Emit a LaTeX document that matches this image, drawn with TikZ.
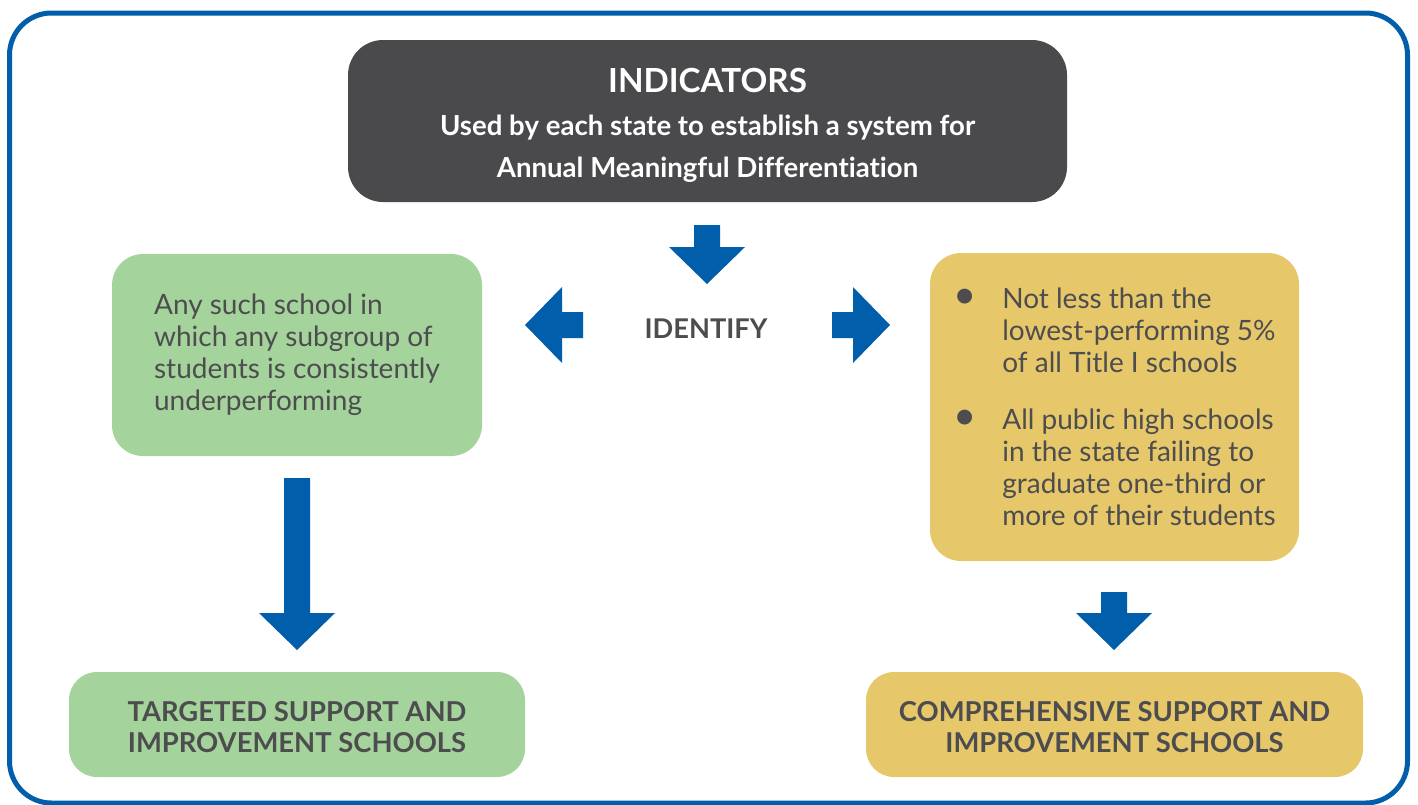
\documentclass[tikz,border=0pt]{standalone}
\usepackage{fontspec}
\setmainfont{Lato}[Ligatures=NoCommon]
\definecolor{schoolblue}{RGB}{0,94,170}
\definecolor{headgray}{RGB}{74,73,76}
\definecolor{textgray}{RGB}{77,77,79}
\definecolor{tsgreen}{RGB}{165,211,156}
\definecolor{csgold}{RGB}{230,200,106}

\tikzset{
    pics/blockarrow/.style={
        code={
            \fill[schoolblue] (0,0) -- (-38,-37) -- (-13,-37) -- (-13,-37-#1)
                -- (13,-37-#1) -- (13,-37) -- (38,-37) -- cycle;
        }
    },
    box/.style={inner sep=0pt, align=center, text=textgray},
    bodyfont/.style={font=\fontsize{14}{16}\selectfont},
    labelfont/.style={font=\bfseries\fontsize{13.7}{15.5}\selectfont}
}

\begin{document}
\begin{tikzpicture}[x=0.5pt,y=-0.5pt]
                      \useasboundingbox (0,0) rectangle (1418,804);
                      \draw[schoolblue, line width=2.5pt, rounded corners=21pt] (9.5,13) rectangle (1407.5,803);

                      \node[box, fill=headgray, text=white, minimum width=359.5pt, minimum height=81pt,
                            rounded corners=17.5pt, font=\bfseries\fontsize{13.8}{21}\selectfont]
                            (indicators) at (707.5,121)
                            {{\fontsize{16.6}{21}\selectfont\rule{0pt}{16pt}INDICATORS}\\[0.5pt]
                             Used by each state to establish a system for\\
                             Annual Meaningful Differentiation};

                      \pic[shift={(707,284)}]{blockarrow=22};
                      \pic[shift={(525,325)},rotate=-90]{blockarrow=21};
                      \pic[shift={(890,325)},rotate=90]{blockarrow=21};
                      \node[box, font=\bfseries\fontsize{13.6}{15}\selectfont] (identify) at (706,329) {IDENTIFY};

                      \node[box, bodyfont, align=left, fill=tsgreen, minimum width=185pt, minimum height=101pt,
                            rounded corners=15.5pt] (subgroup) at (297,355)
                            {Any such school in\\which any subgroup of\\students is consistently\\underperforming};

                      \node[box, bodyfont, align=left, fill=csgold, minimum width=184.5pt, minimum height=154pt,
                            rounded corners=15.5pt] (lowest) at (1114.5,407)
                            {\begin{tabular}{@{}l@{}l@{}}
                             \makebox[24.5pt][l]{\fontsize{20}{16}\selectfont\textbullet} & \rule{0pt}{15.2pt}Not less than the\\
                             & lowest-performing 5\%\\
                             & of all Title I schools\\[12.5pt]
                             \makebox[24.5pt][l]{\fontsize{20}{16}\selectfont\textbullet} & All public high schools\\
                             & in the state failing to\\
                             & graduate one-third or\\
                             & more of their students
                             \end{tabular}};

                      \pic[shift={(297,650)}]{blockarrow=135};
                      \pic[shift={(1114,650)}]{blockarrow=21};

                      \node[box, labelfont, fill=tsgreen, minimum width=228pt, minimum height=52.5pt,
                            rounded corners=14pt] (targeted) at (297,724.5)
                            {\rule{0pt}{13pt}TARGETED SUPPORT AND\\IMPROVEMENT SCHOOLS};
                      \node[box, labelfont, fill=csgold, minimum width=248.5pt, minimum height=52.5pt,
                            rounded corners=14pt] (comprehensive) at (1114.5,724.5)
                            {\rule{0pt}{13pt}COMPREHENSIVE SUPPORT AND\\IMPROVEMENT SCHOOLS};

                  \end{tikzpicture}
\end{document}
